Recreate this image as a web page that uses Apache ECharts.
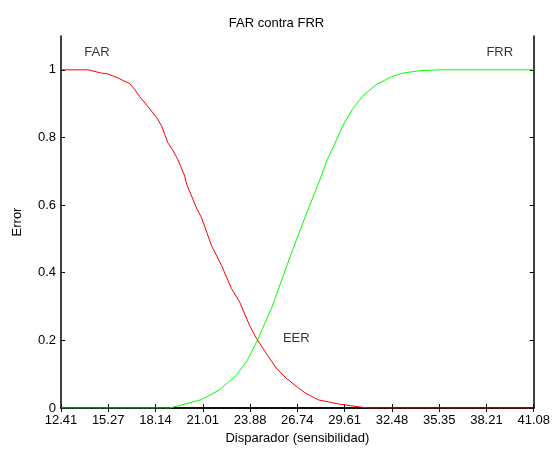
<!DOCTYPE html>
<html>
<head>
<meta charset="utf-8">
<script src="https://cdn.jsdelivr.net/npm/echarts@6/dist/echarts.min.js"></script>
<style>html,body{margin:0;padding:0;background:#fff}#c{width:553px;height:450px}</style>
</head>
<body>
<div id="c"></div>
<script>
var xTicks = [12.41, 15.27, 18.14, 21.01, 23.88, 26.74, 29.61, 32.48, 35.35, 38.21, 41.08];
var yTicks = [0, 0.2, 0.4, 0.6, 0.8, 1];

var farX = [12.41, 14.04, 14.89, 15.19, 15.86, 16.58, 16.89, 17.19, 17.67, 18.22, 18.52, 18.88, 19.18, 19.49, 19.91, 20.03, 20.63, 20.94, 21.54, 22.15, 22.75, 23.24, 23.84, 24.26, 24.93, 25.47, 26.07, 26.74, 27.23, 28.02, 29.22, 30.68, 31.10, 41.08];
var farY = [1.0, 1.0, 0.990, 0.989, 0.976, 0.959, 0.941, 0.920, 0.892, 0.858, 0.833, 0.785, 0.763, 0.735, 0.686, 0.662, 0.591, 0.562, 0.480, 0.421, 0.353, 0.314, 0.245, 0.206, 0.156, 0.118, 0.088, 0.062, 0.044, 0.024, 0.012, 0.002, 0.0, 0.0];

var frrX = [12.41, 19.00, 19.79, 20.94, 22.03, 23.06, 23.72, 24.33, 24.63, 25.17, 25.84, 26.44, 27.17, 28.08, 28.56, 28.86, 29.58, 30.07, 30.68, 31.52, 32.43, 33.10, 34.12, 35.33, 41.08];
var frrY = [0.0, 0.0, 0.010, 0.025, 0.054, 0.098, 0.142, 0.201, 0.235, 0.294, 0.385, 0.465, 0.559, 0.671, 0.735, 0.765, 0.843, 0.882, 0.921, 0.956, 0.979, 0.990, 0.997, 1.0, 1.0];

var noteX = [14.59, 39.02, 26.68];
var noteY = [1.05, 1.05, 0.206];
var noteText = ['FAR', 'FRR', 'EER'];

function pairs(xs, ys) { return xs.map(function (x, i) { return [x, ys[i]]; }); }

var font = '"Liberation Sans", Arial, sans-serif';
var xMin = xTicks[0], xMax = xTicks[xTicks.length - 1];

function xAxisCfg(pos, labels) {
  return {
    type: 'value', position: pos, min: xMin, max: xMax,
    axisLine: { show: true, lineStyle: { color: '#000', width: 1.5 } },
    axisTick: { show: true, inside: true, length: 4, customValues: xTicks, lineStyle: { color: '#000' } },
    axisLabel: { show: labels, customValues: xTicks, margin: 6, color: '#000', fontSize: 13, fontFamily: font,
      formatter: function (v) { return v.toFixed(2); } },
    splitLine: { show: false },
    name: labels ? 'Disparador (sensibilidad)' : '',
    nameLocation: 'middle', nameGap: 24,
    nameTextStyle: { color: '#000', fontSize: 13, fontFamily: font }
  };
}
function yAxisCfg(pos, labels) {
  return {
    type: 'value', position: pos, min: 0, max: 1.1,
    axisLine: { show: true, lineStyle: { color: '#000', width: 1.5 } },
    axisTick: { show: true, inside: true, length: 4, customValues: yTicks, lineStyle: { color: '#000' } },
    axisLabel: { show: labels, customValues: yTicks, margin: 5, color: '#000', fontSize: 13, fontFamily: font },
    splitLine: { show: false },
    name: labels ? 'Error' : '',
    nameLocation: 'middle', nameGap: 37,
    nameTextStyle: { color: '#000', fontSize: 13, fontFamily: font }
  };
}

var chart = echarts.init(document.getElementById('c'), null, { renderer: 'canvas' });
chart.setOption({
  animation: false,
  backgroundColor: '#fff',
  title: { text: 'FAR contra FRR', left: 'center', top: 12,
    textStyle: { color: '#000', fontSize: 13, fontWeight: 'normal', fontFamily: font } },
  grid: { left: 61, right: 17, top: 36, bottom: 40 },
  xAxis: [xAxisCfg('bottom', true), xAxisCfg('top', false)],
  yAxis: [yAxisCfg('left', true), yAxisCfg('right', false)],
  series: [
    { type: 'line', data: pairs(farX, farY), showSymbol: false, symbol: 'none',
      lineStyle: { color: '#ff0000', width: 1 }, z: 3 },
    { type: 'line', data: pairs(frrX, frrY), showSymbol: false, symbol: 'none',
      lineStyle: { color: '#00ff00', width: 1 }, z: 2 },
    { type: 'scatter', symbolSize: 0, silent: true,
      data: noteX.map(function (x, i) { return { value: [x, noteY[i]], name: noteText[i] }; }),
      label: { show: true, position: 'inside', formatter: function (p) { return p.name; },
        color: '#000', fontSize: 13, fontFamily: font } }
  ]
});
</script>
</body>
</html>
